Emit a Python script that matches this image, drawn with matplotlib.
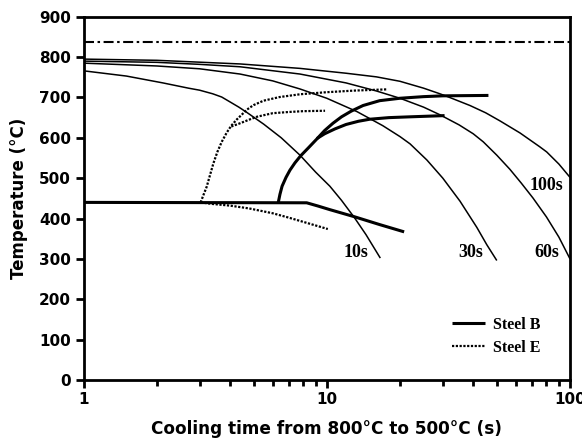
import numpy as np
import matplotlib
matplotlib.use("Agg")
import matplotlib.pyplot as plt
from matplotlib.ticker import FixedLocator, NullFormatter

# ---- Continuous cooling curves (cooling time t8/5 labels) ----
cool_labels = ["10s", "30s", "60s", "100s"]

t_10s = [1, 1.5, 2.12, 2.7, 3.0, 3.4, 3.7, 4.0, 4.35, 4.69, 5.5, 6.5, 7.76, 9.0, 10.3,
         11.5, 13.0, 14.5, 16.6]
T_10s = [766, 753, 736, 723, 718, 709, 701, 689, 676, 663, 634, 600, 557, 515, 480,
         445, 402, 360, 302]

t_30s = [1, 2, 3, 4.4, 6, 7.76, 10, 13.3, 17, 20, 22, 25.8, 30, 35.3, 41.4, 45.5, 50]
T_30s = [785, 778, 771, 758, 741, 721, 698, 665, 630, 603, 585, 545, 500, 443, 378, 335, 296]

t_60s = [1, 2, 3, 4.4, 7.76, 12, 16, 20, 25, 29.2, 35, 40, 44, 50, 56.6, 63, 70.4, 80, 90, 100]
T_60s = [790, 787, 782, 776, 758, 736, 716, 698, 676, 657, 632, 610, 590, 557, 522, 488, 451, 404, 354, 300]

t_100s = [1, 2, 4.4, 7.76, 12, 16, 20, 25, 29.2, 32, 38.8, 45, 51.5, 62.3, 75, 80.2, 90, 100]
T_100s = [795, 792, 783, 772, 760, 751, 740, 723, 709, 700, 680, 662, 642, 612, 578, 565, 535, 502]

# label anchor positions (time, temperature)
label_t = [13.2, 39.2, 80.0, 80.0]
label_T = [315, 315, 315, 481]

# ---- Transformation curves, Steel B ----
B_low_t = [1, 8.27, 9.2, 10.3, 12.9, 16.5, 20.8]
B_low_T = [440, 439, 431, 422, 405, 385, 367]

B_up_t = [6.32, 6.42, 6.55, 6.8, 7.06, 7.4, 7.8, 8.4, 9.1, 9.8, 10.6, 11.5, 12.6,
          14.1, 16.5, 20, 25, 30, 46.2]
B_up_T = [440, 460, 480, 502, 520, 538, 555, 575, 597, 618, 636, 652, 666,
          680, 692, 698, 702, 704, 705]

B_mid_t = [9.1, 9.8, 10.8, 12, 13.5, 15, 18, 22, 30.5]
B_mid_T = [598, 610, 622, 633, 641, 646, 650, 652, 655]

# ---- Transformation curves, Steel E ----
E_low_t = [3.03, 3.4, 4.0, 4.8, 6.0, 7.0, 8.3, 10.1]
E_low_T = [440, 436, 432, 425, 413, 402, 389, 374]

E_up_t = [3.03, 3.12, 3.21, 3.32, 3.42, 3.55, 3.7, 3.88, 4.05, 4.26, 4.45, 4.7,
          5.0, 5.5, 6.4, 7.8, 10, 13, 17.6]
E_up_T = [440, 460, 479, 510, 537, 565, 590, 613, 630, 645, 656, 670,
          681, 692, 701, 708, 713, 717, 720]

E_mid_t = [4.05, 4.4, 4.8, 5.15, 5.6, 6.0, 7.0, 8.0, 9.84]
E_mid_T = [628, 636, 645, 652, 657, 661, 664, 666, 667]

# Ac3 reference temperature
ac3_T = 837

# ---- Figure ----
fig = plt.figure(figsize=(5.82, 4.40), dpi=100)
ax = fig.add_axes([0.1435, 0.1364, 0.8359, 0.8256])

thin = dict(color="black", lw=1.1, solid_capstyle="butt", solid_joinstyle="round")
for tt, TT in [(t_10s, T_10s), (t_30s, T_30s), (t_60s, T_60s), (t_100s, T_100s)]:
    ax.plot(tt, TT, **thin)

for lab, lt, lT in zip(cool_labels, label_t, label_T):
    ax.text(lt, lT, lab, ha="center", va="center", fontsize=13,
            family="Liberation Serif", fontweight="bold")

ax.axhline(ac3_T, color="black", lw=1.5, linestyle=(0, (4.8, 1.7, 1.2, 1.7)))

solid = dict(color="black", lw=2.2, solid_capstyle="butt", solid_joinstyle="round")
ax.plot(B_low_t, B_low_T, **solid)
ax.plot(B_up_t, B_up_T, **solid, label="Steel B")
ax.plot(B_mid_t, B_mid_T, **solid)

dotted = dict(color="black", lw=1.6, linestyle=(0, (1.0, 0.7)), dash_capstyle="butt")
ax.plot(E_low_t, E_low_T, **dotted)
ax.plot(E_up_t, E_up_T, **dotted, label="Steel E")
ax.plot(E_mid_t, E_mid_T, **dotted)

ax.set_xscale("log")
ax.set_xlim(1, 100)
ax.set_ylim(0, 900)

ax.xaxis.set_major_locator(FixedLocator([1, 10, 100]))
ax.xaxis.set_minor_locator(FixedLocator([m * d for d in (1, 10) for m in range(2, 10)]))
ax.xaxis.set_minor_formatter(NullFormatter())
ax.set_xticklabels(["1", "10", "100"])
ax.set_yticks(range(0, 901, 100))

for lbl in ax.get_xticklabels() + ax.get_yticklabels():
    lbl.set_fontfamily("DejaVu Sans")
    lbl.set_fontweight("bold")
    lbl.set_fontsize(11)

ax.tick_params(axis="both", which="major", direction="out", length=6, width=2, pad=3)
ax.tick_params(axis="x", which="minor", direction="out", length=4, width=2)
ax.tick_params(top=False, right=False)

for side in ["left", "bottom", "right", "top"]:
    ax.spines[side].set_linewidth(2)

ax.set_xlabel("Cooling time from 800°C to 500°C (s)", family="DejaVu Sans",
              fontweight="bold", fontsize=12.2, labelpad=9)
ax.set_ylabel("Temperature (°C)", family="DejaVu Sans",
              fontweight="bold", fontsize=12, labelpad=8)

ax.legend(loc="center left", bbox_to_anchor=(0.7405, 0.12), frameon=False,
          borderpad=0, handlelength=2.1, handletextpad=0.5, labelspacing=0.45,
          prop=dict(family="Liberation Serif", weight="bold", size=11.5))

fig.savefig("out.png", dpi=100)
